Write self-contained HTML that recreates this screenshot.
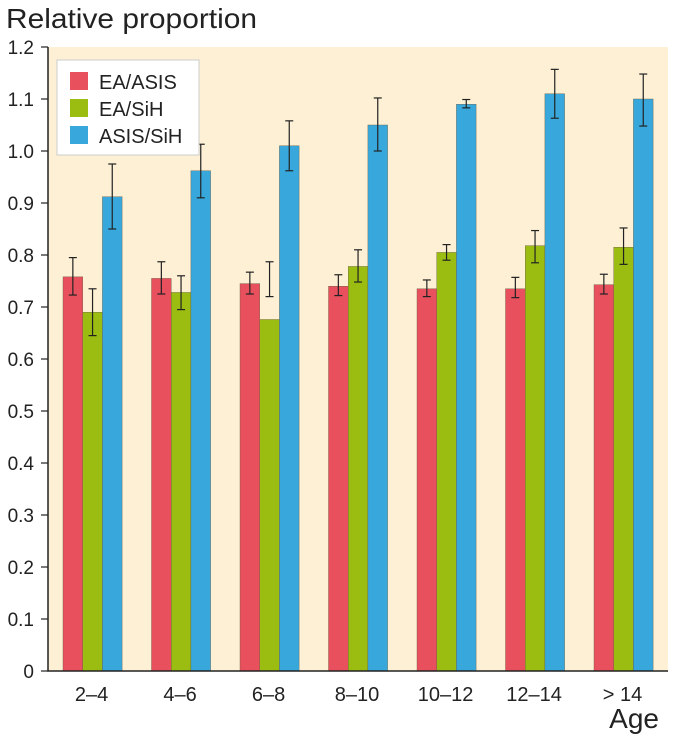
<!DOCTYPE html>
<html><head><meta charset="utf-8"><style>
body{margin:0;background:#fff;width:675px;height:738px;overflow:hidden;font-family:"Liberation Sans",sans-serif}
</style></head><body>
<svg width="675" height="738" xmlns="http://www.w3.org/2000/svg" font-family="Liberation Sans, sans-serif">
<text x="6" y="28" font-size="28" fill="#222" textLength="251" lengthAdjust="spacingAndGlyphs">Relative proportion</text>
<text x="659" y="728" font-size="28" fill="#222" text-anchor="end">Age</text>
<rect x="48" y="47" width="620" height="624" fill="#fdf0d5"/>
<g id="bars"></g>
<g id="axes"></g>
<g>
<rect x="57" y="60" width="142" height="95" fill="#fff" stroke="#ccc"/>
<rect x="70" y="72" width="18" height="18" fill="#e8505e"/>
<text x="99" y="89" font-size="20" fill="#222">EA/ASIS</text>
<rect x="70" y="99" width="18" height="18" fill="#9bbd12"/>
<text x="99" y="116" font-size="20" fill="#222">EA/SiH</text>
<rect x="70" y="126" width="18" height="18" fill="#38a8dc"/>
<text x="99" y="143" font-size="20" fill="#222">ASIS/SiH</text>
</g>
</svg>
<script>
const categories=["2–4","4–6","6–8","8–10","10–12","12–14","> 14"];
const redVals=[0.758,0.755,0.745,0.740,0.735,0.735,0.743];
const redLo=[0.723,0.725,0.725,0.722,0.720,0.718,0.725];
const redHi=[0.795,0.787,0.767,0.762,0.752,0.757,0.763];
const greenVals=[0.690,0.728,0.676,0.778,0.805,0.818,0.815];
const greenLo=[0.645,0.695,0.720,0.748,0.790,0.785,0.782];
const greenHi=[0.735,0.760,0.787,0.810,0.820,0.847,0.852];
const blueVals=[0.912,0.962,1.010,1.050,1.090,1.110,1.100];
const blueLo=[0.850,0.910,0.962,1.000,1.083,1.063,1.048];
const blueHi=[0.975,1.013,1.058,1.102,1.099,1.157,1.148];
const yTicks=[0,0.1,0.2,0.3,0.4,0.5,0.6,0.7,0.8,0.9,1.0,1.1,1.2];
const NS="http://www.w3.org/2000/svg";
const y0=671, pxPerUnit=520;
function yS(v){return y0-v*pxPerUnit;}
function xS(i){return 63+i*88.5;}
const bw=19.7;
function mk(t,a,p){const e=document.createElementNS(NS,t);for(const k in a)e.setAttribute(k,a[k]);p.appendChild(e);return e;}
const bars=document.getElementById('bars'), axes=document.getElementById('axes');
const series=[["ea-asis","#e8505e",redVals,redLo,redHi],["ea-sih","#9bbd12",greenVals,greenLo,greenHi],["asis-sih","#38a8dc",blueVals,blueLo,blueHi]];
categories.forEach((c,i)=>{
  series.forEach((s,j)=>{
    const x=xS(i)+j*bw;
    const r=mk('rect',{x:x,y:yS(s[2][i]),width:bw,height:y0-yS(s[2][i]),fill:s[1],stroke:"#6a5a40","stroke-width":0.4},bars);
    
    
    const cx=x+bw/2;
    const g=mk('g',{stroke:"#222","stroke-width":1.2},bars);
    
    
    mk('line',{x1:cx,x2:cx,y1:yS(s[3][i]),y2:yS(s[4][i])},g);
    mk('line',{x1:cx-4,x2:cx+4,y1:yS(s[3][i]),y2:yS(s[3][i])},g);
    mk('line',{x1:cx-4,x2:cx+4,y1:yS(s[4][i]),y2:yS(s[4][i])},g);
  });
  const t=mk('text',{x:xS(i)+1.5*bw-1,y:701,"font-size":20,"text-anchor":"middle",fill:"#222"},axes);
  t.textContent=c;
  
  
});
const ax=mk('path',{d:`M48 ${yS(1.2)} V${y0} H668`,stroke:"#222","stroke-width":1.5,fill:"none"},axes);


yTicks.forEach(v=>{
  mk('line',{x1:41,x2:48,y1:yS(v),y2:yS(v),stroke:"#222","stroke-width":1.2},axes);
  const t=mk('text',{x:34,y:yS(v)+7,"font-size":19,"text-anchor":"end",fill:"#222"},axes);
  t.textContent=v===0?"0":v.toFixed(1);
  
  
});
</script>
</body></html>
